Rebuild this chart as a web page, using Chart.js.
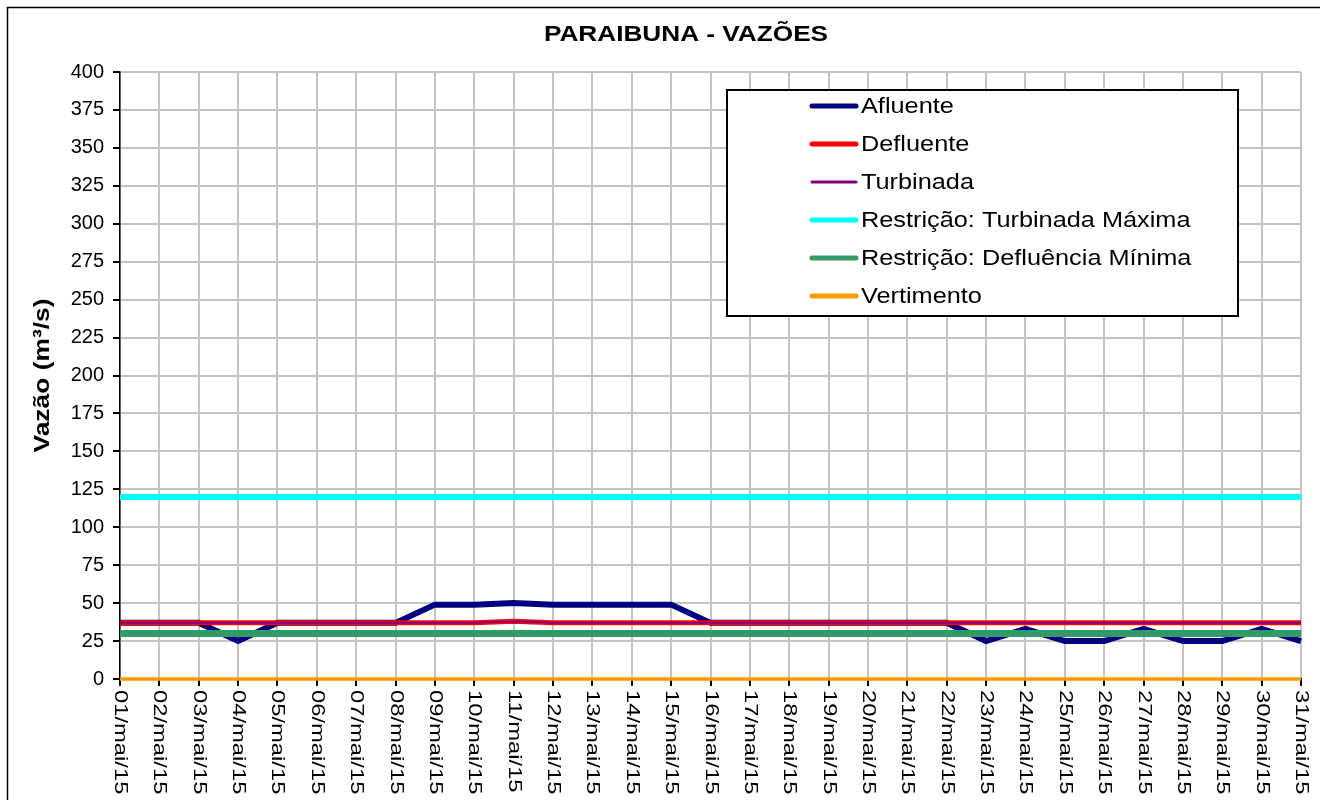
<!DOCTYPE html>
<html>
<head>
<meta charset="utf-8">
<script src="https://cdn.jsdelivr.net/npm/chart.js@4"></script>
<style>
  html, body { margin: 0; padding: 0; background: #fff; }
  #wrap { width: 1320px; height: 800px; }
</style>
</head>
<body>
<div id="wrap"><canvas id="myChart" width="1320" height="800"></canvas></div>
<script>
var dias = ['01/mai/15','02/mai/15','03/mai/15','04/mai/15','05/mai/15','06/mai/15','07/mai/15','08/mai/15',
	'09/mai/15','10/mai/15','11/mai/15','12/mai/15','13/mai/15','14/mai/15','15/mai/15','16/mai/15',
	'17/mai/15','18/mai/15','19/mai/15','20/mai/15','21/mai/15','22/mai/15','23/mai/15','24/mai/15',
	'25/mai/15','26/mai/15','27/mai/15','28/mai/15','29/mai/15','30/mai/15','31/mai/15'];
var afluente   = [37,37,37,25,37,37,37,37,49,49,50,49,49,49,49,37,37,37,37,37,37,37,25,33,25,25,33,25,25,33,25];
var defluente  = [37,37,37,37,37,37,37,37,37,37,38,37,37,37,37,37,37,37,37,37,37,37,37,37,37,37,37,37,37,37,37];
var turbinada  = [37,37,37,37,37,37,37,37,37,37,38,37,37,37,37,37,37,37,37,37,37,37,37,37,37,37,37,37,37,37,37];
var turbMaxima = [120,120,120,120,120,120,120,120,120,120,120,120,120,120,120,120,120,120,120,120,120,120,120,120,120,120,120,120,120,120,120];
var deflMinima = [30,30,30,30,30,30,30,30,30,30,30,30,30,30,30,30,30,30,30,30,30,30,30,30,30,30,30,30,30,30,30];
var vertimento = [0,0,0,0,0,0,0,0,0,0,0,0,0,0,0,0,0,0,0,0,0,0,0,0,0,0,0,0,0,0,0];
var yTicks = [0,25,50,75,100,125,150,175,200,225,250,275,300,325,350,375,400];

var FONT = "'Liberation Sans', Arial, sans-serif";
Chart.defaults.font.family = FONT;
Chart.defaults.color = '#000';

function serie(label, data, color, width, order, legWidth){
	return {
		label: label,
		data: data,
		borderColor: color,
		backgroundColor: color,
		borderWidth: width,
		pointRadius: 0,
		tension: 0,
		fill: false,
		clip: 5,
		order: order,
		legWidth: legWidth
	};
}

// moldura, titulo, rotulos do eixo x e legenda desenhados a mao
var decor = {
	id: 'decor',
	beforeDraw: function(chart){
		var ctx = chart.ctx;
		ctx.save();
		ctx.fillStyle = '#fff';
		ctx.fillRect(0, 0, chart.width, chart.height);
		ctx.restore();
	},
	afterDraw: function(chart){
		var ctx = chart.ctx;
		ctx.save();
		ctx.strokeStyle = '#000';
		ctx.lineWidth = 1.5;
		ctx.strokeRect(7.5, 7.5, 1400, 900);

		ctx.fillStyle = '#000';
		ctx.font = 'bold 22px ' + FONT;
		ctx.textAlign = 'center';
		ctx.textBaseline = 'middle';
		ctx.save();
		ctx.translate(686, 35);
		ctx.scale(1.19, 1);
		ctx.fillText('PARAIBUNA - VAZÕES', 0, 0);
		ctx.restore();

		// eixo y: titulo
		ctx.save();
		ctx.font = 'bold 22px ' + FONT;
		ctx.translate(43, (chart.chartArea.top + chart.chartArea.bottom) / 2);
		ctx.rotate(-Math.PI / 2);
		ctx.scale(1.2, 1);
		ctx.fillText('Vazão (m³/s)', 0, 0);
		ctx.restore();

		// rotulos x, girados no sentido horario
		var xs = chart.scales.x;
		ctx.font = '18px ' + FONT;
		ctx.textAlign = 'left';
		for (var i = 0; i < dias.length; i++){
			var x = xs.getPixelForValue(i);
			ctx.save();
			ctx.translate(x, chart.chartArea.bottom + 11);
			ctx.rotate(Math.PI / 2);
			ctx.scale(1.32, 1);
			ctx.fillText(dias[i], 0, 0);
			ctx.restore();
		}

		// legenda
		var bx = 727, by = 90, bw = 511, bh = 226;
		ctx.fillStyle = '#fff';
		ctx.fillRect(bx, by, bw, bh);
		ctx.strokeStyle = '#000';
		ctx.lineWidth = 2;
		ctx.strokeRect(bx, by, bw, bh);
		ctx.font = '22px ' + FONT;
		ctx.textBaseline = 'middle';
		var sets = chart.data.datasets;
		for (var j = 0; j < sets.length; j++){
			var y = 106 + 38 * j;
			ctx.beginPath();
			ctx.lineCap = 'round';
			ctx.strokeStyle = sets[j].borderColor;
			ctx.lineWidth = sets[j].legWidth;
			ctx.moveTo(812, y);
			ctx.lineTo(856, y);
			ctx.stroke();
			ctx.fillStyle = '#000';
			ctx.save();
			ctx.translate(861, y + 1);
			ctx.scale(1.15, 1);
			ctx.fillText(sets[j].label, 0, 0);
			ctx.restore();
		}
		ctx.restore();
	}
};

var ctx = document.getElementById('myChart').getContext('2d');
var myChart = new Chart(ctx, {
	type: 'line',
	data: {
		labels: dias,
		datasets: [
			serie('Afluente', afluente, '#000080', 6, 6, 5),
			serie('Defluente', defluente, '#FF0000', 5, 5, 5),
			serie('Turbinada', turbinada, '#800080', 2, 4, 3),
			serie('Restrição: Turbinada Máxima', turbMaxima, '#00FFFF', 6, 3, 5),
			serie('Restrição: Defluência Mínima', deflMinima, '#339966', 7, 2, 5),
			serie('Vertimento', vertimento, '#FF9900', 3.5, 1, 5)
		]
	},
	options: {
		responsive: false,
		animation: false,
		devicePixelRatio: 1,
		layout: { padding: { top: 72, right: 19, left: 0, bottom: 0 } },
		plugins: {
			legend: { display: false },
			title: { display: false },
			tooltip: { enabled: false }
		},
		scales: {
			x: {
				type: 'category',
				offset: false,
				grid: { color: '#c4c4c4', lineWidth: 2, tickColor: '#000', tickLength: 7, drawTicks: true },
				border: { color: '#000', width: 1.5 },
				ticks: { display: false },
				afterFit: function(scale){ scale.height = 121; }
			},
			y: {
				min: 0,
				max: 400,
				afterBuildTicks: function(scale){
					scale.ticks = yTicks.map(function(v){ return { value: v }; });
				},
				grid: { color: '#c4c4c4', lineWidth: 2, tickColor: '#000', tickLength: 7 },
				border: { color: '#000', width: 1.5 },
				ticks: { font: { size: 20 }, padding: 9, color: '#000' },
				title: { display: false },
				afterFit: function(scale){ scale.width = 120; }
			}
		}
	},
	plugins: [decor]
});
</script>
</body>
</html>
